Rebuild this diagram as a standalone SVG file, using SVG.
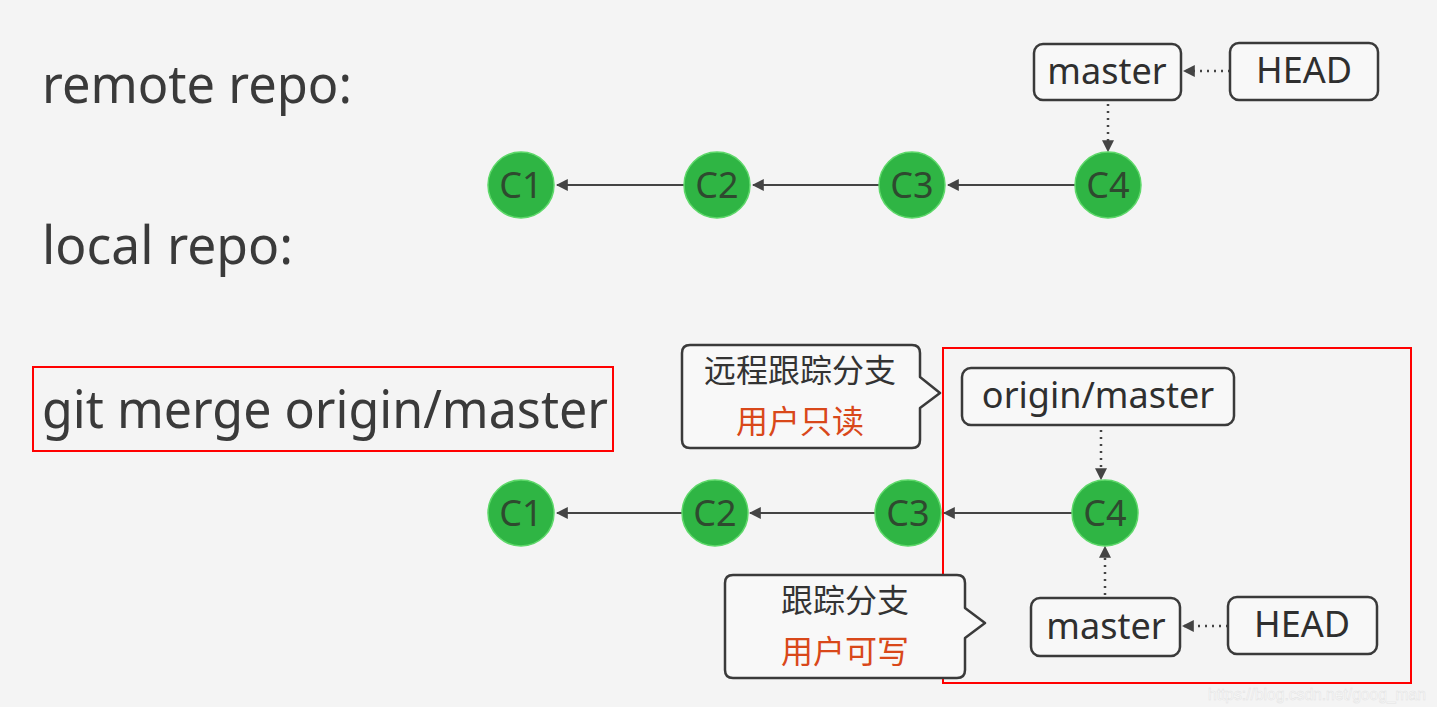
<svg xmlns="http://www.w3.org/2000/svg" width="1437" height="707" viewBox="0 0 1437 707">
<defs>
<style>
.bg{fill:#f4f4f4}
.title{font-family:"Noto Sans","Open Sans",sans-serif;font-size:52px;fill:#3a3a3a}
.commit{fill:#2fb544;stroke:#5ed86a;stroke-width:1.5}
.ctext{font-family:"Noto Sans","Open Sans",sans-serif;font-size:36px;fill:#2e4a2f;text-anchor:middle}
.ref{fill:#f8f8f8;stroke:#3a3a3a;stroke-width:2.5}
.rtext{font-family:"Noto Sans","Open Sans",sans-serif;font-size:36px;fill:#2f2f2f;text-anchor:middle}
.solid{stroke:#444;stroke-width:2.2;fill:none}
.dot{stroke:#444;stroke-width:2.5;fill:none;stroke-dasharray:2 5}
.callout{fill:#f8f8f8;stroke:#3a3a3a;stroke-width:2.5;stroke-linejoin:round}
.cn{font-family:"Noto Sans CJK SC",sans-serif;font-size:32px;fill:#333;text-anchor:middle}
.cnr{font-family:"Noto Sans CJK SC",sans-serif;font-size:32px;fill:#d9481a;text-anchor:middle}
.red{fill:none;stroke:#ff0000;stroke-width:2}
</style>
<marker id="ah" viewBox="0 0 10 10" refX="9" refY="5" markerWidth="12" markerHeight="12" markerUnits="userSpaceOnUse" orient="auto">
<path d="M0,0 L10,5 L0,10 z" fill="#444"/>
</marker>
</defs>
<rect class="bg" x="0" y="0" width="1437" height="707"/>

<text class="title" x="42" y="103" textLength="310" lengthAdjust="spacingAndGlyphs">remote repo:</text>
<text class="title" x="42" y="264" textLength="251" lengthAdjust="spacingAndGlyphs">local repo:</text>
<text class="title" x="42" y="428" textLength="566" lengthAdjust="spacingAndGlyphs">git merge origin/master</text>
<rect class="red" x="33" y="367" width="580" height="84"/>
<rect class="red" x="943" y="348" width="468" height="335"/>

<g id="connectors">
<line class="solid" x1="684" y1="185" x2="557" y2="185" marker-end="url(#ah)"/>
<line class="solid" x1="879" y1="185" x2="753" y2="185" marker-end="url(#ah)"/>
<line class="solid" x1="1075" y1="185" x2="948" y2="185" marker-end="url(#ah)"/>
<line class="dot" x1="1230" y1="71" x2="1184" y2="71" marker-end="url(#ah)"/>
<line class="dot" x1="1108" y1="104" x2="1108" y2="151" marker-end="url(#ah)"/>
<line class="solid" x1="682" y1="513" x2="557" y2="513" marker-end="url(#ah)"/>
<line class="solid" x1="875" y1="513" x2="750" y2="513" marker-end="url(#ah)"/>
<line class="solid" x1="1072" y1="513" x2="944" y2="513" marker-end="url(#ah)"/>
<line class="dot" x1="1101" y1="430" x2="1101" y2="479" marker-end="url(#ah)"/>
<line class="dot" x1="1105" y1="595" x2="1105" y2="547" marker-end="url(#ah)"/>
<line class="dot" x1="1228" y1="626" x2="1183" y2="626" marker-end="url(#ah)"/>
</g>

<g id="r-c1"><circle class="commit" cx="521" cy="185" r="33"/><text class="ctext" x="521" y="198">C1</text></g>
<g id="r-c2"><circle class="commit" cx="717" cy="185" r="33"/><text class="ctext" x="717" y="198">C2</text></g>
<g id="r-c3"><circle class="commit" cx="912" cy="185" r="33"/><text class="ctext" x="912" y="198">C3</text></g>
<g id="r-c4"><circle class="commit" cx="1108" cy="185" r="33"/><text class="ctext" x="1108" y="198">C4</text></g>
<g id="r-master"><rect class="ref" x="1034" y="44" width="147" height="56" rx="9"/><text class="rtext" x="1107" y="84">master</text></g>
<g id="r-head"><rect class="ref" x="1230" y="43" width="148" height="57" rx="9"/><text class="rtext" x="1304" y="83">HEAD</text></g>

<g id="l-c1"><circle class="commit" cx="521" cy="513" r="33"/><text class="ctext" x="521" y="526">C1</text></g>
<g id="l-c2"><circle class="commit" cx="715" cy="513" r="33"/><text class="ctext" x="715" y="526">C2</text></g>
<g id="l-c3"><circle class="commit" cx="908" cy="513" r="33"/><text class="ctext" x="908" y="526">C3</text></g>
<g id="l-c4"><circle class="commit" cx="1105" cy="513" r="33"/><text class="ctext" x="1105" y="526">C4</text></g>
<g id="l-origin"><rect class="ref" x="962" y="368" width="272" height="57" rx="9"/><text class="rtext" x="1098" y="408">origin/master</text></g>
<g id="l-master"><rect class="ref" x="1031" y="598" width="149" height="58" rx="9"/><text class="rtext" x="1106" y="639">master</text></g>
<g id="l-head"><rect class="ref" x="1228" y="597" width="149" height="57" rx="9"/><text class="rtext" x="1302" y="637">HEAD</text></g>

<g id="callout-remote">
<path class="callout" d="M690,345 H912 Q920,345 920,353 V377 L940,393 L920,408 V440 Q920,448 912,448 H690 Q682,448 682,440 V353 Q682,345 690,345 Z"/>
<text class="cn" x="800" y="382">远程跟踪分支</text>
<text class="cnr" x="800" y="433">用户只读</text>
</g>
<g id="callout-local">
<path class="callout" d="M733,575 H957 Q965,575 965,583 V608 L985,623 L965,638 V670 Q965,678 957,678 H733 Q725,678 725,670 V583 Q725,575 733,575 Z"/>
<text class="cn" x="845" y="612">跟踪分支</text>
<text class="cnr" x="845" y="663">用户可写</text>
</g>

<text x="1208" y="700" textLength="218" lengthAdjust="spacingAndGlyphs" font-family="Liberation Sans,Arial,sans-serif" font-size="16" fill="#fbfbfb" stroke="#e2e2e2" stroke-width="0.5">https://blog.csdn.net/goog_man</text>
</svg>
